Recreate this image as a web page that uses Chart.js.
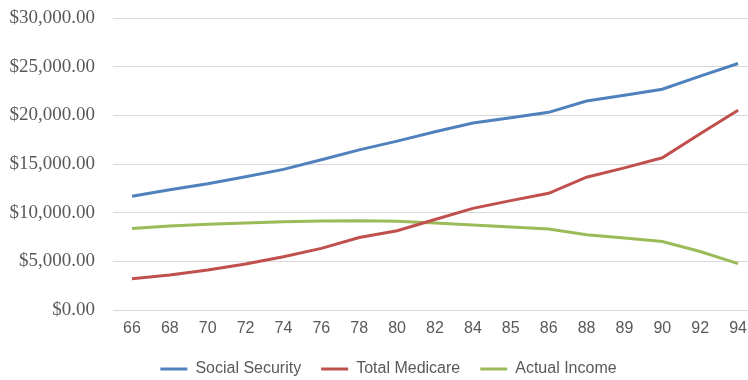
<!DOCTYPE html>
<html>
<head>
<meta charset="utf-8">
<script src="https://cdn.jsdelivr.net/npm/chart.js@4/dist/chart.umd.min.js"></script>
<style>
  html, body { margin: 0; padding: 0; background: #fff; overflow: hidden; }
  #wrap { width: 757px; height: 390px; }
</style>
</head>
<body>
<div id="wrap"><canvas id="c" width="757" height="390"></canvas></div>
<script>
// Ages shown on the horizontal axis
const ages = ['66','68','70','72','74','76','78','80','82','84','85','86','88','89','90','92','94'];

// Yearly amounts in dollars
const socialSecurity = [11680, 12350, 12980, 13700, 14450, 15430, 16450, 17350, 18320, 19220, 19760, 20310, 21470, 22060, 22680, 24020, 25330];
const totalMedicare  = [3200, 3600, 4100, 4720, 5480, 6330, 7450, 8150, 9300, 10440, 11240, 11990, 13640, 14600, 15640, 18110, 20520];
const actualIncome   = [8380, 8620, 8800, 8950, 9070, 9150, 9180, 9110, 8950, 8730, 8530, 8320, 7730, 7390, 7040, 6010, 4770];

const seriesNames  = ['Social Security', 'Total Medicare', 'Actual Income'];
const seriesColors = ['#4F81BD', '#C0504D', '#9BBB59'];

const money = v => '$' + Number(v).toLocaleString('en-US', { minimumFractionDigits: 2, maximumFractionDigits: 2 });

const seriesData = [socialSecurity, totalMedicare, actualIncome];

// Nudge the legend row so it sits centred under the plot area
const legendShift = {
  id: 'legendShift',
  afterLayout(chart) {
    const lg = chart.legend;
    if (lg) { lg.left += 5; lg.right += 5; }
  }
};

new Chart(document.getElementById('c'), {
  type: 'line',
  data: {
    labels: ages,
    datasets: seriesData.map((d, i) => ({
      label: seriesNames[i],
      data: d,
      borderColor: seriesColors[i],
      backgroundColor: seriesColors[i],
      borderWidth: 3,
      pointRadius: 0,
      tension: 0,
      fill: false
    }))
  },
  plugins: [legendShift],
  options: {
    responsive: false,
    animation: false,
    layout: { padding: { left: 10, right: 0, top: 18, bottom: 3 } },
    plugins: {
      tooltip: { enabled: false },
      legend: {
        position: 'bottom',
        labels: {
          boxWidth: 27,
          boxHeight: 3,
          padding: 20,
          color: '#595959',
          font: { family: 'Liberation Sans', size: 16 },
          // flat coloured strokes as legend keys
          generateLabels: chart => Chart.defaults.plugins.legend.labels.generateLabels(chart)
            .map(item => Object.assign(item, { lineWidth: 0, strokeStyle: 'rgba(0,0,0,0)' }))
        }
      }
    },
    scales: {
      x: {
        offset: true,
        afterFit: axis => { axis.height = 31; },
        grid: { display: false, drawTicks: false },
        border: { display: false },
        ticks: {
          color: '#595959',
          padding: 9,
          maxRotation: 0,
          autoSkip: false,
          font: { family: 'Liberation Sans', size: 16 }
        }
      },
      y: {
        min: 0,
        max: 30000,
        afterFit: axis => { axis.width = 103; },
        grid: {
          color: '#D9D9D9',
          lineWidth: 1,
          drawTicks: true,
          tickLength: 18,
          tickColor: 'rgba(0,0,0,0)'
        },
        border: { display: false },
        ticks: {
          stepSize: 5000,
          padding: 0,
          color: '#595959',
          font: { family: 'Liberation Serif', size: 19 },
          callback: v => money(v)
        }
      }
    }
  }
});
</script>
</body>
</html>
